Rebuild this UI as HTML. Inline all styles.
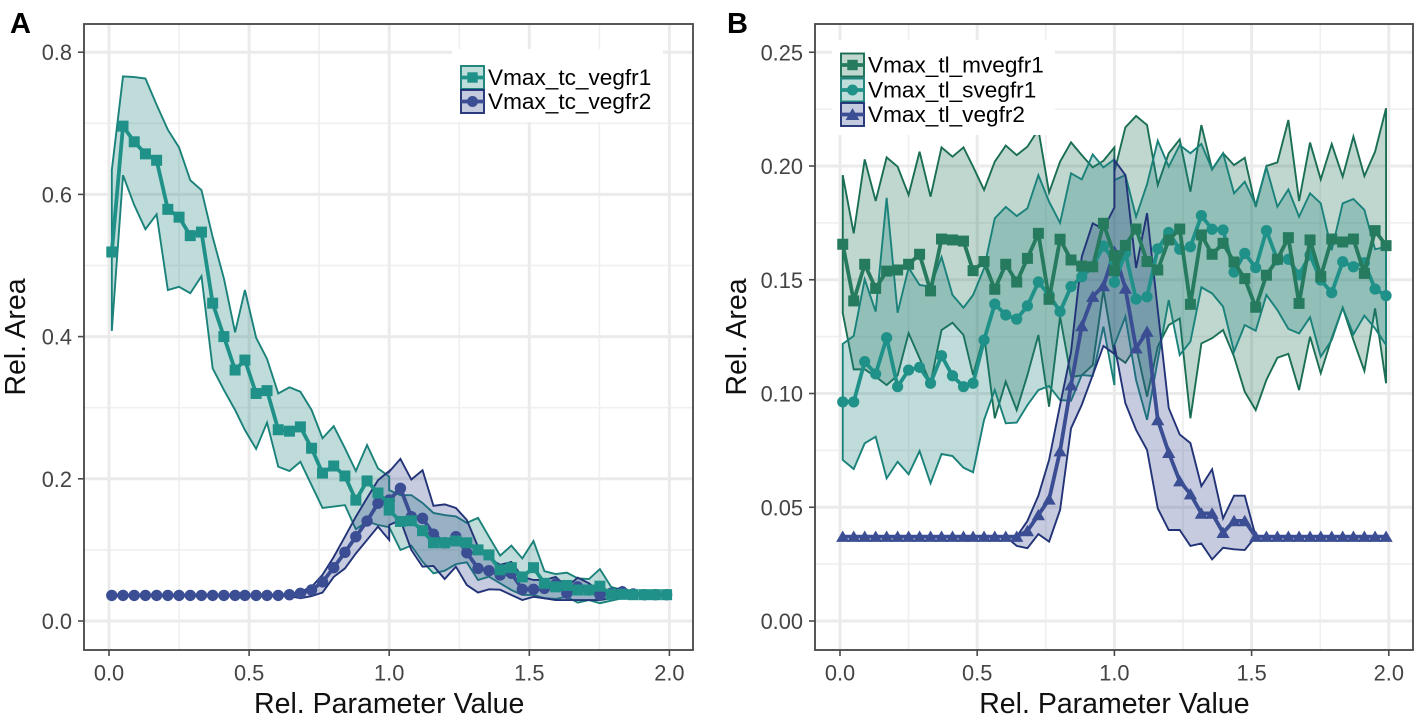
<!DOCTYPE html>
<html lang="en">
<head>
<meta charset="utf-8">
<title>Relative area vs relative parameter value</title>
<style>
html,body{margin:0;padding:0;background:#fff;width:1418px;height:720px;overflow:hidden}
svg{display:block}
text{font-family:"Liberation Sans",Arial,sans-serif}
</style>
</head>
<body>
<svg id="figure" xmlns="http://www.w3.org/2000/svg" width="1418" height="720" viewBox="0 0 1418 720"></svg>
<script>
const paramValues = [0.01,0.05,0.09,0.13,0.17,0.21,0.25,0.29,0.33,0.37,0.41,0.45,0.485,0.525,0.564,0.604,0.644,0.683,0.723,0.762,0.802,0.842,0.881,0.921,0.96,1.0,1.0,1.04,1.079,1.119,1.158,1.198,1.238,1.277,1.317,1.356,1.396,1.436,1.475,1.515,1.554,1.594,1.634,1.673,1.713,1.752,1.792,1.832,1.871,1.911,1.95,1.99];

/* Panel A */
const aXTicks = ["0.0","0.5","1.0","1.5","2.0"];
const aYTicks = ["0.0","0.2","0.4","0.6","0.8"];
const aVegfr1Mean = [.519,.696,.674,.657,.648,.579,.568,.542,.547,.447,.40,.353,.367,.32,.324,.269,.267,.273,.243,.208,.218,.204,.17,.197,.18,.1655,.156,.14,.141,.127,.11,.11,.1125,.11,.1,.093,.072,.075,.062,.075,.053,.048,.05,.0436,.0436,.049,.0375,.0375,.037,.037,.037,.037];
const aVegfr1Upper = [.634,.766,.765,.763,.726,.691,.666,.62,.606,.54,.482,.406,.4655,.3985,.3685,.32,.3287,.3225,.2968,.257,.274,.243,.211,.2475,.2147,.203,.184,.177,.177,.166,.152,.149,.147,.138,.145,.1186,.092,.106,.088,.1125,.07,.066,.068,.06,.059,.073,.048,.0436,.04,.038,.037,.037];
const aVegfr1Lower = [.408,.627,.585,.551,.572,.4655,.47,.461,.485,.3553,.325,.2968,.2686,.242,.279,.217,.211,.224,.191,.159,.161,.163,.129,.14,.135,.132,.132,.0999,.106,.0834,.067,.0707,.08,.0825,.0577,.0623,.053,.0436,.0366,.0366,.032,.031,.034,.0258,.0295,.025,.0286,.032,.035,.036,.037,.037];
const aVegfr2Mean = [.036,.036,.036,.036,.036,.036,.036,.036,.036,.036,.036,.036,.036,.036,.036,.036,.037,.039,.0436,.055,.075,.0966,.1186,.1406,.1655,.17,.17,.1866,.1467,.1444,.122,.11,.1186,.096,.074,.0708,.0647,.067,.0446,.0446,.046,.052,.039,.048,.0436,.0366,.039,.041,.038,.037,.037,.037];
const aVegfr2Upper = [.036,.036,.036,.036,.036,.036,.036,.036,.036,.036,.036,.036,.036,.036,.036,.036,.037,.041,.048,.065,.09,.1186,.1467,.173,.198,.211,.21,.228,.199,.212,.162,.164,.159,.142,.1045,.088,.079,.083,.062,.0577,.0577,.062,.048,.061,.053,.041,.041,.048,.038,.037,.037,.037];
const aVegfr2Lower = [.036,.036,.036,.036,.036,.036,.036,.036,.036,.036,.036,.036,.036,.036,.036,.036,.035,.032,.035,.04,.062,.074,.095,.114,.1327,.114,.135,.142,.0999,.0764,.0774,.059,.0764,.0506,.04,.0446,.044,.0366,.0295,.034,.032,.0295,.0295,.0295,.0295,.0295,.032,.034,.036,.037,.037,.037];

/* Panel B */
const bXTicks = ["0.0","0.5","1.0","1.5","2.0"];
const bYTicks = ["0.00","0.05","0.10","0.15","0.20","0.25"];
const bMvegfr1Mean = [.1656,.1407,.1568,.1462,.1538,.1543,.1568,.1612,.1451,.1679,.1675,.167,.154,.158,.1458,.1568,.149,.1594,.1704,.1414,.1678,.1587,.156,.1557,.1748,.1606,.154,.1651,.1723,.158,.1543,.1675,.1723,.1392,.1697,.1612,.166,.1578,.1505,.1379,.152,.159,.1685,.1396,.1675,.1514,.1679,.1666,.1679,.1528,.1716,.165];
const bMvegfr1Upper = [.196,.1704,.2029,.1846,.2038,.1997,.1873,.2063,.1865,.2082,.2041,.2082,.1997,.1895,.2019,.209,.2048,.2085,.216,.1884,.2019,.2104,.2048,.1994,.2023,.2082,.1975,.217,.222,.218,.1916,.2056,.2117,.1887,.218,.1985,.2056,.2004,.2036,.182,.2,.2016,.2202,.1846,.2103,.1941,.2097,.1953,.2129,.1956,.2063,.2254];
const bMvegfr1Lower = [.1354,.1106,.1106,.1074,.1037,.108,.1265,.1155,.1045,.1279,.1311,.1257,.1081,.1257,.0891,.1052,.0927,.1081,.1257,.0942,.1338,.1073,.108,.1125,.1455,.1169,.1169,.1135,.1206,.0986,.1206,.1301,.133,.0891,.122,.1243,.1279,.1162,.1008,.0927,.106,.1157,.1174,.1015,.125,.1089,.1243,.1377,.1235,.1099,.1374,.1045];
const bSvegfr1Mean = [.0963,.0963,.114,.1086,.1245,.103,.1103,.1115,.1045,.1166,.1078,.103,.1045,.1235,.1393,.1345,.1327,.1385,.149,.1433,.136,.147,.1513,.1557,.1648,.158,.1489,.1617,.1415,.1425,.1636,.1708,.1634,.1645,.1782,.1722,.1719,.1534,.1616,.1553,.1716,.1587,.159,.1521,.1609,.1499,.1443,.1579,.1557,.1575,.1459,.143];
const bSvegfr1Upper = [.1218,.1253,.1502,.136,.186,.1355,.1553,.1477,.147,.16,.1433,.1377,.1433,.155,.177,.182,.178,.1814,.196,.1843,.175,.1968,.1941,.2051,.1994,.2029,.1938,.196,.1777,.192,.2111,.1997,.2092,.2056,.2097,.1985,.2056,.188,.1931,.1829,.1994,.1821,.1897,.1777,.188,.1836,.163,.1836,.1855,.1807,.1634,.1645];
const bSvegfr1Lower = [.0708,.0668,.0781,.081,.0627,.07,.0645,.0747,.0605,.0734,.0725,.0674,.0654,.0884,.1015,.0869,.0872,.0949,.1015,.1033,.0971,.0968,.1081,.1077,.1294,.1037,.1213,.1338,.1059,.0884,.1147,.1411,.1169,.1228,.1467,.144,.1382,.1184,.1301,.1276,.1433,.1367,.1284,.1264,.1335,.1162,.1235,.1377,.126,.1342,.1286,.1213];
const bVegfr2Mean = [.0371,.0371,.0371,.0371,.0371,.0371,.0371,.0371,.0371,.0371,.0371,.0371,.0371,.0371,.0371,.0371,.0371,.0396,.0466,.0535,.0747,.1037,.1297,.1426,.1473,.1623,.1623,.1462,.1199,.1272,.0884,.074,.0615,.0558,.0473,.0473,.0388,.044,.044,.0371,.0371,.0371,.0371,.0371,.0371,.0371,.0371,.0371,.0371,.0371,.0371,.0371];
const bVegfr2Upper = [.0371,.0371,.0371,.0371,.0371,.0371,.0371,.0371,.0371,.0371,.0371,.0371,.0371,.0371,.0371,.0371,.0371,.044,.0551,.0708,.0949,.1182,.1601,.1748,.1723,.1818,.2026,.196,.1552,.1793,.1367,.0936,.082,.0782,.0593,.0667,.0451,.0551,.0551,.0371,.0371,.0371,.0371,.0371,.0371,.0371,.0371,.0371,.0371,.0371,.0371,.0371];
const bVegfr2Lower = [.0371,.0371,.0371,.0371,.0371,.0371,.0371,.0371,.0371,.0371,.0371,.0371,.0371,.0371,.0371,.0371,.033,.032,.0382,.0349,.0488,.0847,.095,.1081,.1209,.1174,.1213,.0957,.084,.0752,.0495,.04,.04,.033,.0341,.0271,.0322,.0315,.0312,.0371,.0371,.0371,.0371,.0371,.0371,.0371,.0371,.0371,.0371,.0371,.0371,.0371];

const svg = document.getElementById('figure');
const NS = 'http://www.w3.org/2000/svg';
function make(tag, attrs, parent) {
  const el = document.createElementNS(NS, tag);
  for (const k in attrs) el.setAttribute(k, attrs[k]);
  (parent || svg).appendChild(el);
  return el;
}
const PAL = {
  tealA: {line:'#1a827a', fill:'rgba(28,130,122,.28)', mark:'#1f9188', key:'#bfdedb'},
  blue:  {line:'#223377', fill:'rgba(50,68,140,.28)',  mark:'#3b4e94', key:'#c5cbdf'},
  green: {line:'#1a6e55', fill:'rgba(30,110,85,.28)',  mark:'#267a5e', key:'#c0d8d0'}
};
function marker(g, kind, cx, cy, color, s) {
  if (kind === 'square') return make('rect', {x:cx-s, y:cy-s, width:2*s, height:2*s, fill:color}, g);
  if (kind === 'circle') return make('circle', {cx:cx, cy:cy, r:s, fill:color}, g);
  return make('polygon', {points:[cx,cy-s*1.15,cx+s*1.25,cy+s,cx-s*1.25,cy+s].join(' '), fill:color}, g);
}
function drawBand(panel, upper, lower, pal, name) {
  const top = paramValues.map((v,i)=>panel.x(v)+','+panel.y(upper[i]));
  const bot = paramValues.map((v,i)=>panel.x(v)+','+panel.y(lower[i])).reverse();
  const el = make('polygon', {points:top.concat(bot).join(' '), fill:pal.fill, stroke:pal.line, 'stroke-width':1.9, 'stroke-linejoin':'miter'});
  
  
}
function drawMean(panel, mean, pal, kind, name, size) {
  const g = make('g', {});
  
  
  make('polyline', {points:paramValues.map((v,i)=>panel.x(v)+','+panel.y(mean[i])).join(' '), fill:'none', stroke:pal.mark, 'stroke-width':3.8, 'stroke-linejoin':'round'}, g);
  paramValues.forEach((v,i)=>{
    const m = marker(g, kind, panel.x(v), panel.y(mean[i]), pal.mark, size);
    
    
  });
}
function drawFrame(panel, xTicks, yTicks, yStep) {
  const bg = make('g', {});
  
  
  const hl = (y,w,c)=>make('line',{x1:panel.l,x2:panel.r,y1:y,y2:y,stroke:c,'stroke-width':w},bg);
  const vl = (x,w,c)=>make('line',{x1:x,x2:x,y1:panel.t,y2:panel.b,stroke:c,'stroke-width':w},bg);
  yTicks.forEach((t,i)=>{
    if (i < yTicks.length) hl(panel.y(parseFloat(t)+yStep/2),1.7,'#f0f0f0');
  });
  xTicks.forEach((t,i)=>{
    if (i < xTicks.length-1) vl(panel.x(parseFloat(t)+0.25),1.7,'#f0f0f0');
  });
  yTicks.forEach(t=>hl(panel.y(parseFloat(t)),3,'#ebebeb'));
  xTicks.forEach(t=>vl(panel.x(parseFloat(t)),3,'#ebebeb'));
}
function drawAxes(panel, xTicks, yTicks) {
  const b = make('rect',{x:panel.l,y:panel.t,width:panel.r-panel.l,height:panel.b-panel.t,fill:'none',stroke:'#454545','stroke-width':1.8});
  
  
  const tickCol = '#4a4a4a';
  xTicks.forEach(t=>{
    const x = panel.x(parseFloat(t));
    make('line',{x1:x,x2:x,y1:panel.b,y2:panel.b+6,stroke:tickCol,'stroke-width':1.6});
    const lab = make('text',{x:x,y:680.5,'text-anchor':'middle','font-size':21.8,fill:'#444'});
    lab.textContent = t;
    
    
  });
  yTicks.forEach(t=>{
    const y = panel.y(parseFloat(t));
    make('line',{x1:panel.l-6,x2:panel.l,y1:y,y2:y,stroke:tickCol,'stroke-width':1.6});
    const lab = make('text',{x:panel.l-12,y:y+8,'text-anchor':'end','font-size':21.8,fill:'#444'});
    lab.textContent = t;
    
    
  });
  const xt = make('text',{x:(panel.x(0)+panel.x(2))/2,y:713,'text-anchor':'middle','font-size':28.5,fill:'#111'});
  xt.textContent = 'Rel. Parameter Value';
  
  
  const yx = panel.titleX;
  const yt = make('text',{x:yx,y:337,'text-anchor':'middle','font-size':28.5,fill:'#111',transform:'rotate(-90 '+yx+' 337)'});
  yt.textContent = 'Rel. Area';
  
  
  const tag = make('text',{x:panel.tagX,y:33,'font-size':29,'font-weight':'bold',fill:'#000'});
  tag.textContent = panel.tag;
  
  
}
function drawLegend(box, entries) {
  const g = make('g', {});
  
  
  make('rect',{x:box.x,y:box.y,width:box.w,height:box.h,fill:'#fff'},g);
  entries.forEach(e=>{
    const entry = make('g',{},g);
    
    
    make('rect',{x:box.kx,y:e.y,width:23,height:23,fill:e.pal.key,stroke:e.pal.line,'stroke-width':1.9},entry);
    make('line',{x1:box.kx,x2:box.kx+23,y1:e.y+11.5,y2:e.y+11.5,stroke:e.pal.mark,'stroke-width':3.8},entry);
    marker(entry,e.kind,box.kx+11.5,e.y+11.5,e.pal.mark,e.size);
    const t = make('text',{x:box.kx+27,y:e.y+19,'font-size':22.6,fill:'#000'},entry);
    t.textContent = e.label;
  });
}

const panelA = {id:'panel-a', l:84, r:693, t:24, b:650, titleX:25, tag:'A', tagX:10,
  x:v=>+(109+280.2*v).toFixed(2), y:v=>+(621-711*v).toFixed(2)};
const panelB = {id:'panel-b', l:815, r:1413, t:24, b:650, titleX:746, tag:'B', tagX:727,
  x:v=>+(840+274.4*v).toFixed(2), y:v=>+(621-2275*v).toFixed(2)};

drawFrame(panelA, aXTicks, aYTicks, 0.2);
drawBand(panelA, aVegfr1Upper, aVegfr1Lower, PAL.tealA, 'vmax-tc-vegfr1-band');
drawBand(panelA, aVegfr2Upper, aVegfr2Lower, PAL.blue, 'vmax-tc-vegfr2-band');
drawMean(panelA, aVegfr2Mean, PAL.blue, 'circle', 'vmax-tc-vegfr2-line', 5.7);
drawMean(panelA, aVegfr1Mean, PAL.tealA, 'square', 'vmax-tc-vegfr1-line', 5.5);
drawLegend({x:452,y:49,w:211,h:73,kx:461},[
  {y:66,pal:PAL.tealA,kind:'square',size:5.2,label:'Vmax_tc_vegfr1'},
  {y:90,pal:PAL.blue,kind:'circle',size:5.5,label:'Vmax_tc_vegfr2'}
]);
drawAxes(panelA, aXTicks, aYTicks);

drawFrame(panelB, bXTicks, bYTicks, 0.05);
drawBand(panelB, bMvegfr1Upper, bMvegfr1Lower, PAL.green, 'vmax-tl-mvegfr1-band');
drawBand(panelB, bSvegfr1Upper, bSvegfr1Lower, PAL.tealA, 'vmax-tl-svegfr1-band');
drawBand(panelB, bVegfr2Upper, bVegfr2Lower, PAL.blue, 'vmax-tl-vegfr2-band');
drawMean(panelB, bVegfr2Mean, PAL.blue, 'triangle', 'vmax-tl-vegfr2-line', 5.3);
drawMean(panelB, bSvegfr1Mean, PAL.tealA, 'circle', 'vmax-tl-svegfr1-line', 5.6);
drawMean(panelB, bMvegfr1Mean, PAL.green, 'square', 'vmax-tl-mvegfr1-line', 5.5);
drawLegend({x:832,y:40,w:223,h:95,kx:841},[
  {y:53.5,pal:PAL.green,kind:'square',size:5.2,label:'Vmax_tl_mvegfr1'},
  {y:78.5,pal:PAL.tealA,kind:'circle',size:5.5,label:'Vmax_tl_svegfr1'},
  {y:103,pal:PAL.blue,kind:'triangle',size:5.5,label:'Vmax_tl_vegfr2'}
]);
drawAxes(panelB, bXTicks, bYTicks);
</script>
</body>
</html>
